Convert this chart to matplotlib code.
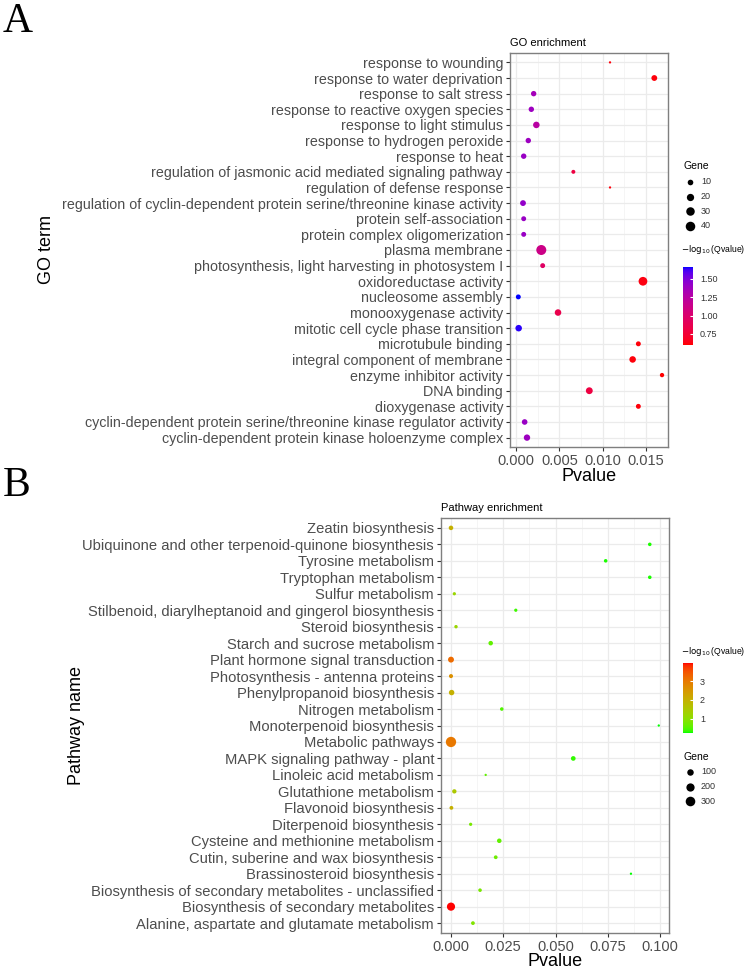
import numpy as np
import matplotlib
matplotlib.use("Agg")
import matplotlib.pyplot as plt
from matplotlib.colors import ListedColormap, Normalize
from matplotlib.cm import ScalarMappable

plt.rcParams['font.family'] = ['Liberation Sans', 'DejaVu Sans']

# ---------------- data: GO enrichment (top to bottom) ----------------
go_terms = [
    "response to wounding",
    "response to water deprivation",
    "response to salt stress",
    "response to reactive oxygen species",
    "response to light stimulus",
    "response to hydrogen peroxide",
    "response to heat",
    "regulation of jasmonic acid mediated signaling pathway",
    "regulation of defense response",
    "regulation of cyclin-dependent protein serine/threonine kinase activity",
    "protein self-association",
    "protein complex oligomerization",
    "plasma membrane",
    "photosynthesis, light harvesting in photosystem I",
    "oxidoreductase activity",
    "nucleosome assembly",
    "monooxygenase activity",
    "mitotic cell cycle phase transition",
    "microtubule binding",
    "integral component of membrane",
    "enzyme inhibitor activity",
    "DNA binding",
    "dioxygenase activity",
    "cyclin-dependent protein serine/threonine kinase regulator activity",
    "cyclin-dependent protein kinase holoenzyme complex",
]
go_pvalue = [0.01085, 0.01596, 0.00204, 0.00177, 0.00235, 0.00142, 0.00089,
             0.00662, 0.01085, 0.00081, 0.00089, 0.00089, 0.00292, 0.00308,
             0.01465, 0.00027, 0.00485, 0.00031, 0.01412, 0.01346, 0.01685,
             0.00846, 0.01412, 0.00100, 0.00127]
go_gene = [2, 11, 9, 9, 15, 9, 9, 4, 2, 11, 7, 7, 45, 7, 32, 7, 15, 15, 7, 15,
           5, 17, 7, 10, 14]
go_qlog = [0.62, 0.62, 1.35, 1.38, 1.25, 1.38, 1.40, 0.80, 0.62, 1.42, 1.40,
           1.40, 1.12, 0.95, 0.63, 1.66, 0.85, 1.64, 0.62, 0.62, 0.60, 0.80,
           0.62, 1.40, 1.38]
go_xticks = [0.000, 0.005, 0.010, 0.015]
go_xticklabels = ["0.000", "0.005", "0.010", "0.015"]
go_size_breaks = [10, 20, 30, 40]
go_color_breaks = [0.75, 1.00, 1.25, 1.50]
go_color_labels = ["0.75", "1.00", "1.25", "1.50"]

# ---------------- data: Pathway enrichment (top to bottom) ----------------
kegg_terms = [
    "Zeatin biosynthesis",
    "Ubiquinone and other terpenoid-quinone biosynthesis",
    "Tyrosine metabolism",
    "Tryptophan metabolism",
    "Sulfur metabolism",
    "Stilbenoid, diarylheptanoid and gingerol biosynthesis",
    "Steroid biosynthesis",
    "Starch and sucrose metabolism",
    "Plant hormone signal transduction",
    "Photosynthesis - antenna proteins",
    "Phenylpropanoid biosynthesis",
    "Nitrogen metabolism",
    "Monoterpenoid biosynthesis",
    "Metabolic pathways",
    "MAPK signaling pathway - plant",
    "Linoleic acid metabolism",
    "Glutathione metabolism",
    "Flavonoid biosynthesis",
    "Diterpenoid biosynthesis",
    "Cysteine and methionine metabolism",
    "Cutin, suberine and wax biosynthesis",
    "Brassinosteroid biosynthesis",
    "Biosynthesis of secondary metabolites - unclassified",
    "Biosynthesis of secondary metabolites",
    "Alanine, aspartate and glutamate metabolism",
]
kegg_pvalue = [0.0000, 0.0951, 0.0740, 0.0951, 0.0016, 0.0310, 0.0024, 0.0190,
               0.0000, 0.0000, 0.0003, 0.0243, 0.0994, 0.0000, 0.0585, 0.0166,
               0.0016, 0.0002, 0.0094, 0.0231, 0.0214, 0.0861, 0.0139, 0.0000,
               0.0105]
kegg_gene = [30, 11, 11, 11, 7, 7, 9, 30, 75, 19, 58, 11, 2, 360, 34, 2, 25,
             15, 7, 30, 14, 2, 11, 195, 14]
kegg_qlog = [2.0, 0.30, 0.30, 0.30, 1.2, 0.40, 1.2, 0.6, 3.2, 2.6, 2.0, 0.5,
             0.26, 3.0, 0.35, 0.6, 1.5, 2.0, 0.8, 0.6, 0.7, 0.26, 0.8, 3.95,
             0.9]
kegg_xticks = [0.000, 0.025, 0.050, 0.075, 0.100]
kegg_xticklabels = ["0.000", "0.025", "0.050", "0.075", "0.100"]
kegg_size_breaks = [100, 200, 300]
kegg_color_breaks = [1, 2, 3]
kegg_color_labels = ["1", "2", "3"]

W, H = 744, 968


# ---------------- helpers ----------------
def srgb_to_lab(rgb):
    rgb = np.asarray(rgb, float)
    lin = np.where(rgb <= 0.04045, rgb / 12.92, ((rgb + 0.055) / 1.055) ** 2.4)
    M = np.array([[0.4124, 0.3576, 0.1805],
                  [0.2126, 0.7152, 0.0722],
                  [0.0193, 0.1192, 0.9505]])
    xyz = M @ lin
    wp = np.array([0.95047, 1.0, 1.08883])
    t = xyz / wp
    f = np.where(t > (6 / 29) ** 3, np.cbrt(t), t / (3 * (6 / 29) ** 2) + 4 / 29)
    return np.array([116 * f[1] - 16, 500 * (f[0] - f[1]), 200 * (f[1] - f[2])])


def lab_to_srgb(lab):
    L, a, b = lab
    fy = (L + 16) / 116
    fx = fy + a / 500
    fz = fy - b / 200
    f = np.array([fx, fy, fz])
    t = np.where(f > 6 / 29, f ** 3, 3 * (6 / 29) ** 2 * (f - 4 / 29))
    wp = np.array([0.95047, 1.0, 1.08883])
    xyz = t * wp
    Minv = np.array([[3.2406, -1.5372, -0.4986],
                     [-0.9689, 1.8758, 0.0415],
                     [0.0557, -0.2040, 1.0570]])
    lin = np.clip(Minv @ xyz, 0, 1)
    srgb = np.where(lin <= 0.0031308, 12.92 * lin, 1.055 * lin ** (1 / 2.4) - 0.055)
    return np.clip(srgb, 0, 1)


def lab_cmap(low, high, n=256):
    l1, l2 = srgb_to_lab(low), srgb_to_lab(high)
    cols = [lab_to_srgb(l1 + (l2 - l1) * t) for t in np.linspace(0, 1, n)]
    return ListedColormap(cols)


def diam_px(v, vmin, vmax, dmin, dmax):
    v = np.asarray(v, float)
    r = np.clip((v - vmin) / (vmax - vmin), 0, 1)
    return dmin + (dmax - dmin) * np.sqrt(r)


def s_from_px(d):
    return (np.asarray(d) * 72.0 / 100.0) ** 2


def add_axes_px(fig, l, t, r, b):
    return fig.add_axes([l / W, 1 - b / H, (r - l) / W, (b - t) / H])


def style_axes(ax, xticks, xlabels, minor, terms, xlim, ysize):
    n = len(terms)
    ax.set_xlim(*xlim)
    ax.set_ylim(0.4, n + 0.6)
    ax.set_xticks(xticks)
    ax.set_xticklabels(xlabels)
    ax.set_xticks(minor, minor=True)
    ax.set_yticks(np.arange(n, 0, -1))
    ax.set_yticklabels(terms)
    ax.grid(True, which='major', color='#EBEBEB', lw=0.9, zorder=0)
    ax.grid(True, which='minor', axis='x', color='#F2F2F2', lw=0.5, zorder=0)
    ax.set_axisbelow(True)
    ax.tick_params(axis='both', which='major', length=3, width=0.8,
                   color='#333333', labelcolor='#4D4D4D', labelsize=ysize, pad=2)
    ax.tick_params(axis='x', which='major', labelsize=10.5)
    ax.tick_params(axis='x', which='minor', length=0)
    for sp in ax.spines.values():
        sp.set_color('#7F7F7F')
        sp.set_linewidth(1.0)


fig = plt.figure(figsize=(W / 100, H / 100), dpi=100)
fig.patch.set_facecolor('white')

# ================= Panel A =================
cmapA = lab_cmap([1, 0, 0], [0, 0, 1])
normA = Normalize(0.60, 1.66)
gminA, gmaxA, dminA, dmaxA = 2, 45, 2.3, 10.0

axA = add_axes_px(fig, 510, 53, 668, 447)
nA = len(go_terms)
yA = np.arange(nA, 0, -1)
order = np.argsort(go_gene)[::-1]
axA.scatter(np.array(go_pvalue)[order], yA[order],
            s=s_from_px(diam_px(np.array(go_gene)[order], gminA, gmaxA, dminA, dmaxA)),
            c=np.array(go_qlog)[order], cmap=cmapA, norm=normA,
            linewidths=0, zorder=3)
style_axes(axA, go_xticks, go_xticklabels, [0.0025, 0.0075, 0.0125, 0.0175],
           go_terms, (-0.00069, 0.01754), 10.3)
axA.set_xlabel("Pvalue", fontsize=13, labelpad=0)
axA.set_ylabel("GO term", fontsize=13)
axA.yaxis.set_label_coords((55 - 510) / 158, 0.5)
axA.text(0.0, 1.012, "GO enrichment", transform=axA.transAxes, ha='left',
         va='bottom', fontsize=8, color='black')

# ================= Panel B =================
cmapB = lab_cmap([0, 1, 0], [1, 0, 0])
normB = Normalize(0.26, 3.95)
gminB, gmaxB, dminB, dmaxB = 2, 360, 2.3, 10.3

axB = add_axes_px(fig, 441, 518, 669, 933)
nB = len(kegg_terms)
yB = np.arange(nB, 0, -1)
order = np.argsort(kegg_gene)[::-1]
axB.scatter(np.array(kegg_pvalue)[order], yB[order],
            s=s_from_px(diam_px(np.array(kegg_gene)[order], gminB, gmaxB, dminB, dmaxB)),
            c=np.array(kegg_qlog)[order], cmap=cmapB, norm=normB,
            linewidths=0, zorder=3)
style_axes(axB, kegg_xticks, kegg_xticklabels, [0.0125, 0.0375, 0.0625, 0.0875],
           kegg_terms, (-0.00478, 0.1043), 10.6)
axB.set_xlabel("Pvalue", fontsize=13, labelpad=-1)
axB.set_ylabel("Pathway name", fontsize=13)
axB.yaxis.set_label_coords((85 - 441) / 228, 0.5)
axB.text(0.0, 1.012, "Pathway enrichment", transform=axB.transAxes, ha='left',
         va='bottom', fontsize=8, color='black')

# ================= legends =================
ov = fig.add_axes([0, 0, 1, 1], facecolor='none')
ov.set_xlim(0, W)
ov.set_ylim(H, 0)
ov.axis('off')

# Panel A size legend
ov.text(684, 166, "Gene", fontsize=7.5, va='center', ha='left')
for i, g in enumerate(go_size_breaks):
    yy = 182 + i * 14.5
    ov.scatter([690], [yy], s=s_from_px(diam_px(g, gminA, gmaxA, dminA, dmaxA)),
               c='black', linewidths=0)
    ov.text(701, yy, str(g), fontsize=6.5, va='center', ha='left', color='#333333')

# Panel A colour bar
ov.text(681, 250, r"$-\log_{10}$(Qvalue)", fontsize=6.2, va='center', ha='left')
caxA = add_axes_px(fig, 683, 267, 693, 345)
cbA = fig.colorbar(ScalarMappable(norm=normA, cmap=cmapA), cax=caxA,
                   ticks=go_color_breaks)
cbA.ax.set_yticklabels(go_color_labels)
cbA.outline.set_visible(False)
caxA.tick_params(direction='in', color='white', length=2.5, width=0.8,
                 labelsize=6.5, labelcolor='#333333', pad=5)

# Panel B colour bar
ov.text(681, 652, r"$-\log_{10}$(Qvalue)", fontsize=6.2, va='center', ha='left')
caxB = add_axes_px(fig, 683, 663, 693, 733)
cbB = fig.colorbar(ScalarMappable(norm=normB, cmap=cmapB), cax=caxB,
                   ticks=kegg_color_breaks)
cbB.ax.set_yticklabels(kegg_color_labels)
cbB.outline.set_visible(False)
caxB.tick_params(direction='in', color='white', length=2.5, width=0.8,
                 labelsize=6.5, labelcolor='#333333', pad=5)

# Panel B size legend
ov.text(683, 757, "Gene", fontsize=7.5, va='center', ha='left')
for i, g in enumerate(kegg_size_breaks):
    yy = 772 + i * 14.5
    ov.scatter([690], [yy], s=s_from_px(diam_px(g, gminB, gmaxB, dminB, dmaxB)),
               c='black', linewidths=0)
    ov.text(701, yy, str(g), fontsize=6.5, va='center', ha='left', color='#333333')

# panel letters
fig.text(3 / W, 1 - 2 / H, "A", fontsize=30, family='Liberation Serif',
         va='top', ha='left')
fig.text(3 / W, 1 - 467 / H, "B", fontsize=30, family='Liberation Serif',
         va='top', ha='left')

fig.savefig("out.png", dpi=100, facecolor='white')
